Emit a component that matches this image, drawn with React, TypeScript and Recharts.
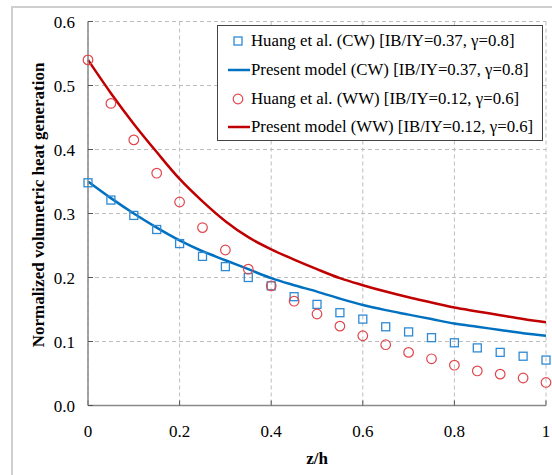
import React from 'react';
import { ComposedChart, Line, XAxis, YAxis, CartesianGrid, Legend } from 'recharts';

// z/h positions of the data points
const zValues = [0, 0.05, 0.1, 0.15, 0.2, 0.25, 0.3, 0.35, 0.4, 0.45, 0.5, 0.55, 0.6, 0.65, 0.7, 0.75, 0.8, 0.85, 0.9, 0.95, 1];

// Huang et al. measurements
const huangCW = [0.348, 0.321, 0.297, 0.275, 0.253, 0.233, 0.217, 0.2, 0.187, 0.17, 0.158, 0.145, 0.135, 0.123, 0.115, 0.106, 0.098, 0.09, 0.083, 0.077, 0.071];
const huangWW = [0.54, 0.472, 0.415, 0.363, 0.318, 0.278, 0.243, 0.213, 0.187, 0.163, 0.143, 0.124, 0.109, 0.095, 0.083, 0.073, 0.063, 0.054, 0.049, 0.043, 0.036];

// present model curves
const modelCW = [0.35, 0.324, 0.3, 0.278, 0.258, 0.241, 0.227, 0.213, 0.199, 0.188, 0.178, 0.167, 0.157, 0.149, 0.142, 0.135, 0.128, 0.123, 0.118, 0.113, 0.109];
const modelWW = [0.54, 0.488, 0.44, 0.396, 0.354, 0.319, 0.288, 0.263, 0.244, 0.228, 0.213, 0.199, 0.188, 0.178, 0.169, 0.161, 0.153, 0.147, 0.141, 0.135, 0.13];

const xTicks = [0, 0.2, 0.4, 0.6, 0.8, 1];
const yTicks = [0, 0.1, 0.2, 0.3, 0.4, 0.5, 0.6];

const legendLabels = [
  'Huang et al. (CW) [IB/IY=0.37, γ=0.8]',
  'Present model (CW) [IB/IY=0.37, γ=0.8]',
  'Huang et al. (WW) [IB/IY=0.12, γ=0.6]',
  'Present model (WW) [IB/IY=0.12, γ=0.6]',
];

const BLUE_LINE = '#0070C0';
const BLUE_MARK = '#2F8AD3';
const RED_LINE = '#C00000';
const RED_MARK = '#E0474C';
const FONT = "'Liberation Serif', 'Times New Roman', serif";

const data = zValues.map((z, i) => ({
  z,
  huangCW: huangCW[i],
  modelCW: modelCW[i],
  huangWW: huangWW[i],
  modelWW: modelWW[i],
}));

const SquareDot = (props: any) => {
  const { cx, cy, key } = props;
  if (cx == null || cy == null) return null;
  return <rect key={key} x={cx - 4} y={cy - 4} width={8} height={8} fill="none" stroke={BLUE_MARK} strokeWidth={1.3} />;
};

const CircleDot = (props: any) => {
  const { cx, cy, key } = props;
  if (cx == null || cy == null) return null;
  return <circle key={key} cx={cx} cy={cy} r={4.8} fill="none" stroke={RED_MARK} strokeWidth={1.2} />;
};

const LegendBox = () => {
  const icons = [
    <rect x={6} y={4} width={8} height={8} fill="none" stroke={BLUE_MARK} strokeWidth={1.3} />,
    <line x1={0} y1={8} x2={22} y2={8} stroke={BLUE_LINE} strokeWidth={2.5} />,
    <circle cx={10} cy={8} r={4.8} fill="none" stroke={RED_MARK} strokeWidth={1.2} />,
    <line x1={0} y1={8} x2={22} y2={8} stroke={RED_LINE} strokeWidth={2.5} />,
  ];
  return (
    <div style={{ border: '1.5px solid #444', background: '#fff', width: 326, height: 116, boxSizing: 'border-box', padding: '1px 0 0 10px', fontFamily: FONT, fontSize: 16.8, color: '#000', textAlign: 'left' }}>
      {legendLabels.map((label, i) => (
        <div key={label} style={{ display: 'flex', alignItems: 'center', height: 28.7, whiteSpace: 'nowrap' }}>
          <svg width={22} height={16} style={{ marginRight: 1, flexShrink: 0 }}>{icons[i]}</svg>
          <span>{label}</span>
        </div>
      ))}
    </div>
  );
};

export default function App() {
  return (
    <div style={{ position: 'absolute', left: 0, top: 0, width: 552, height: 475, background: '#fff' }}>
      <div style={{ position: 'absolute', left: 11, top: 6, width: 560, height: 500, borderTop: '2px solid #cfcfcf', borderLeft: '2px solid #cfcfcf' }} />
      <ComposedChart
        width={552}
        height={475}
        data={data}
        margin={{ top: 21.5, right: 6, bottom: 0, left: 0 }}
        style={{ position: 'absolute', left: 0, top: 0, fontFamily: FONT }}
      >
        <CartesianGrid stroke="#bdbdbd" strokeDasharray="4 3" horizontal vertical />
        <XAxis
          dataKey="z"
          type="number"
          domain={[0, 1]}
          ticks={xTicks}
          tickFormatter={(v: number) => String(v)}
          height={69.5}
          axisLine={{ stroke: '#8a8a8a', strokeWidth: 1.5 }}
          tickLine={{ stroke: '#555' }}
          tickSize={-5}
          tickMargin={24}
          tick={{ fill: '#000', fontSize: 17, fontFamily: FONT }}
          label={{
            content: () => (
              <text x={317} y={464} textAnchor="middle" fontFamily={FONT} fontWeight="bold" fontSize={17} fill="#000">z/h</text>
            ),
          }}
        />
        <YAxis
          type="number"
          domain={[0, 0.6]}
          ticks={yTicks}
          tickFormatter={(v: number) => v.toFixed(1)}
          width={88}
          axisLine={{ stroke: '#8a8a8a', strokeWidth: 1.5 }}
          tickLine={{ stroke: '#555' }}
          tickSize={-5}
          tickMargin={18}
          tick={{ fill: '#000', fontSize: 17, fontFamily: FONT }}
          label={{
            content: () => (
              <text x={44} y={205} textAnchor="middle" transform="rotate(-90 44 205)" fontFamily={FONT} fontWeight="bold" fontSize={17} fill="#000">
                Normalized volumetric heat generation
              </text>
            ),
          }}
        />
        <XAxis xAxisId="top" orientation="top" type="number" domain={[0, 1]} height={0} tick={false} tickLine={false} axisLine={{ stroke: '#8a8a8a', strokeWidth: 1.5 }} />
        <YAxis yAxisId="right" orientation="right" type="number" domain={[0, 0.6]} width={0} tick={false} tickLine={false} axisLine={{ stroke: '#8a8a8a', strokeWidth: 1.5 }} />
        <Legend
          layout="horizontal"
          verticalAlign="middle"
          align="center"
          content={() => <LegendBox />}
          wrapperStyle={{ position: 'absolute', left: 217, top: 25, width: 326 }}
        />
        <Line dataKey="modelCW" type="monotone" stroke={BLUE_LINE} strokeWidth={2.5} dot={false} isAnimationActive={false} />
        <Line dataKey="modelWW" type="monotone" stroke={RED_LINE} strokeWidth={2.5} dot={false} isAnimationActive={false} />
        <Line dataKey="huangCW" stroke="none" dot={SquareDot} activeDot={false} isAnimationActive={false} />
        <Line dataKey="huangWW" stroke="none" dot={CircleDot} activeDot={false} isAnimationActive={false} />
      </ComposedChart>
    </div>
  );
}
